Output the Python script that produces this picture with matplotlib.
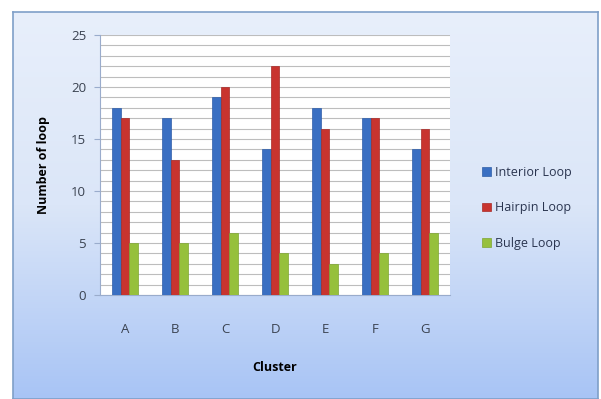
import numpy as np
import matplotlib.pyplot as plt
from matplotlib.colors import LinearSegmentedColormap

plt.rcParams["font.family"] = ["Open Sans", "DejaVu Sans"]

clusters = ["A", "B", "C", "D", "E", "F", "G"]
interior = [18, 17, 19, 14, 18, 17, 14]
hairpin = [17, 13, 20, 22, 16, 17, 16]
bulge = [5, 5, 6, 4, 3, 4, 6]

W, H = 601, 399
fig = plt.figure(figsize=(W / 100, H / 100), dpi=100)
fig.patch.set_facecolor("white")

# fond en degradé, cadre du graphique
bg = fig.add_axes([13 / W, 0, (598 - 13) / W, 1 - 12 / H], zorder=0)
grad = LinearSegmentedColormap.from_list("bg", ["#e8effb", "#dbe6f8", "#a8c4f5"])
bg.imshow(np.linspace(0, 1, 256).reshape(-1, 1), aspect="auto", cmap=grad,
          extent=[0, 1, 0, 1], origin="upper")
bg.set_xticks([])
bg.set_yticks([])
for s in bg.spines.values():
    s.set_color("#7f9fc8")
    s.set_linewidth(1.2)

ax = fig.add_axes([100 / W, 1 - 295 / H, 350 / W, 260 / H], zorder=1)
ax.set_facecolor("white")

x = np.arange(len(clusters))
w = 0.17
ax.bar(x - w, interior, w, color="#3a6fc2", edgecolor="#2f5ea8", linewidth=0.5,
       label="Interior Loop", zorder=3)
ax.bar(x, hairpin, w, color="#c8342f", edgecolor="#a82a26", linewidth=0.5,
       label="Hairpin Loop", zorder=3)
ax.bar(x + w, bulge, w, color="#96c03c", edgecolor="#7ea532", linewidth=0.5,
       label="Bulge Loop", zorder=3)

ax.set_xlim(-0.5, 6.5)
ax.set_ylim(0, 25)
ax.set_yticks(range(0, 26, 5))
ax.set_yticks(range(0, 26), minor=True)
ax.grid(axis="y", which="both", color="#bdbdbd", linewidth=0.8, zorder=0)
ax.set_axisbelow(True)
ax.set_xticks(x)
ax.set_xticklabels(clusters)
ax.tick_params(axis="both", which="both", length=0, labelsize=9.5,
               labelcolor="#3a4250", pad=6)
ax.tick_params(axis="x", pad=20)
ax.tick_params(axis="y", which="major", length=4, color="#9aaccc")
for k in ["top", "right"]:
    ax.spines[k].set_visible(False)
ax.spines["left"].set_color("#9aaccc")
ax.spines["bottom"].set_color("#9aaccc")

ax.set_xlabel("Cluster", fontsize=9, fontweight="bold", labelpad=18)
ax.set_ylabel("Number of loop", fontsize=9, fontweight="bold", labelpad=15)

leg = ax.legend(loc="center left", bbox_to_anchor=(1.06, 0.335), frameon=False,
                fontsize=9, handlelength=0.7, handleheight=0.7,
                handletextpad=0.3, labelspacing=1.8)
for t in leg.get_texts():
    t.set_color("#2a3550")

fig.savefig("out.png", dpi=100)
